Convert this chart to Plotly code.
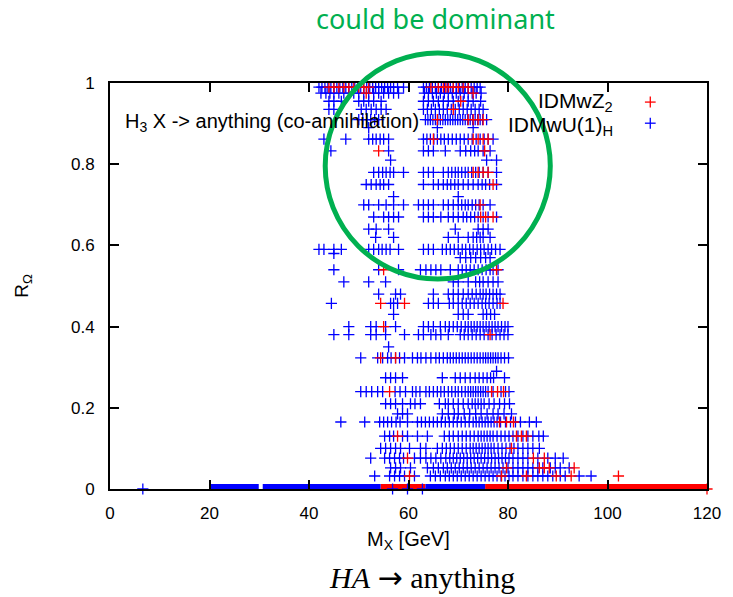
import plotly.graph_objects as go

# ---------------- data ----------------
# Blue series: IDMwU(1)_H  -- each level of R_Omega with its M_X values
BLUE_R = [0.99, 0.975, 0.955, 0.935, 0.91, 0.89, 0.862, 0.833, 0.81, 0.78, 0.75, 0.72,
          0.70, 0.67, 0.64, 0.62, 0.59, 0.58, 0.57, 0.54, 0.51, 0.48, 0.457, 0.43,
          0.40, 0.38, 0.35, 0.323, 0.29, 0.274, 0.24, 0.21, 0.185, 0.165, 0.13,
          0.10, 0.076, 0.052, 0.032, 0.0]
BLUE_X = [
    [42.0, 42.6, 43.2, 43.8, 44.4, 45.0, 45.6, 46.2, 46.8, 47.4, 48.0, 48.6, 49.2, 49.8, 50.4,
     51.0, 51.6, 52.2, 52.8, 53.4, 54.0, 54.6, 55.2, 55.8, 56.4, 57.0, 57.8, 59.0, 63.0, 63.6,
     64.2, 64.8, 65.4, 66.0, 66.6, 67.2, 67.8, 68.4, 69.0, 69.6, 70.2, 70.8, 71.4, 72.0, 72.6,
     73.2, 73.8, 74.4],
    [42.4, 43.4, 44.2, 45.0, 46.0, 47.0, 48.0, 49.0, 50.0, 51.0, 52.0, 53.0, 54.0, 55.0, 56.0,
     57.0, 58.0, 63.2, 64.0, 64.8, 65.6, 66.4, 67.2, 68.0, 68.8, 69.6, 70.4, 71.2, 72.0, 72.8,
     73.6, 74.6],
    [44.0, 45.0, 46.5, 50.0, 51.0, 52.0, 53.0, 54.5, 63.0, 64.0, 65.0, 66.0, 67.0, 68.0, 69.0,
     70.0, 71.0, 72.0, 73.0, 74.5],
    [44.0, 45.0, 50.5, 51.5, 52.5, 53.5, 54.5, 55.5, 63.0, 63.8, 64.6, 65.4, 66.2, 67.0, 67.8,
     68.6, 69.4, 70.2, 71.0, 71.8, 72.6, 73.4, 74.2, 75.0],
    [50.0, 50.8, 51.6, 52.4, 53.2, 54.0, 63.4, 63.9, 64.4, 64.9, 65.4, 65.9, 66.4, 66.9, 67.4,
     67.9, 68.4, 68.9, 69.4, 69.9, 70.4, 70.9, 71.4, 71.9, 72.4, 72.9, 73.4, 73.9, 74.4, 74.9,
     75.7],
    [52.0, 65.8, 73.0],
    [43.0, 47.4, 52.0, 52.8, 53.5, 54.3, 55.0, 56.0, 63.0, 63.7, 64.4, 65.1, 65.8, 66.5, 67.2,
     68.0, 68.8, 69.6, 70.4, 71.2, 72.0, 72.8, 73.6, 74.4, 75.2, 76.0, 77.0],
    [44.4, 56.0, 63.0, 64.0, 65.0, 67.4, 70.4, 71.5, 72.5, 73.3, 74.0, 75.0, 76.4],
    [56.4, 75.7, 77.7],
    [53.0, 54.0, 54.8, 55.5, 56.3, 57.0, 59.0, 63.0, 64.0, 65.0, 67.0, 68.0, 68.7, 69.4, 70.0,
     70.7, 71.4, 72.0, 72.7, 73.5, 74.2, 75.0, 76.0, 77.7],
    [51.5, 52.5, 53.5, 54.3, 55.0, 56.0, 63.0, 65.0, 66.0, 67.0, 67.8, 68.5, 69.3, 70.0, 71.0,
     72.0, 73.0, 74.0, 74.8, 75.5, 76.3, 77.7],
    [57.0, 70.0],
    [51.0, 52.0, 54.0, 55.5, 57.0, 59.0, 62.0, 63.0, 64.0, 65.0, 67.0, 68.0, 69.0, 70.0, 70.7,
     71.4, 72.0, 72.8, 73.5, 74.2, 75.0, 76.4],
    [53.0, 55.0, 56.0, 57.0, 58.0, 63.0, 64.0, 65.0, 66.5, 68.0, 69.0, 70.0, 71.0, 71.7, 72.5,
     73.3, 74.0, 75.0, 76.0, 77.7],
    [52.0, 53.5, 56.0, 69.4, 74.0, 75.0, 76.0],
    [53.4, 57.0, 68.0, 70.0, 72.0, 73.0, 73.7, 74.4, 75.0, 76.4],
    [42.0, 43.0, 45.0, 46.5, 52.0, 53.0, 54.0, 54.7, 55.5, 56.3, 58.0, 63.0, 64.0, 65.0, 66.8,
     67.6, 68.4, 69.2, 70.0, 70.8, 71.5, 72.3, 73.0, 73.8, 74.5, 75.2, 76.0, 76.7, 77.5, 78.4],
    [45.0],
    [70.4, 71.5, 72.5, 73.5, 74.5, 75.5, 76.4],
    [45.0, 54.0, 58.0, 62.4, 63.5, 64.5, 65.5, 66.5, 68.4, 70.0, 70.8, 71.6, 72.4, 73.2, 74.0,
     74.8, 75.6, 76.4, 77.0, 78.0],
    [47.0, 52.0, 55.4, 69.0, 70.0, 72.0, 73.5, 74.3, 75.0, 76.0, 77.0, 78.0],
    [54.0, 57.4, 58.4, 65.0, 68.0, 69.0, 70.0, 71.0, 72.0, 72.8, 73.6, 74.4, 75.0, 75.6, 76.3,
     77.0, 77.7, 78.4],
    [44.5, 56.4, 57.0, 57.8, 64.0, 65.0, 66.0, 68.2, 69.0, 70.0, 70.8, 71.6, 72.4, 73.2, 74.0,
     74.8, 75.5, 76.2, 77.0, 77.8, 78.4],
    [57.0, 70.0, 71.0, 72.0, 75.0, 75.7, 76.5, 77.3],
    [48.0, 52.4, 53.5, 55.4, 57.4, 63.0, 64.0, 65.0, 66.4, 67.4, 68.2, 69.0, 69.8, 70.6, 71.4,
     72.0, 72.6, 73.2, 73.8, 74.4, 75.0, 75.6, 76.2, 76.8, 77.4, 78.0, 78.7, 79.4, 80.0],
    [45.0, 48.0, 52.4, 53.5, 55.4, 59.2, 62.0, 63.0, 64.5, 65.5, 66.5, 68.0, 70.4, 71.2, 72.0,
     72.8, 73.6, 74.4, 75.2, 76.0, 76.8, 77.6, 78.4, 79.2, 80.0],
    [56.0],
    [50.4, 53.8, 54.8, 55.8, 56.5, 57.4, 58.2, 59.2, 60.8, 61.8, 62.5, 63.5, 64.5, 65.5, 66.2,
     67.0, 67.8, 68.4, 69.0, 69.6, 70.2, 70.8, 71.4, 72.0, 72.6, 73.2, 73.8, 74.4, 75.0, 75.5,
     76.0, 76.5, 77.0, 77.5, 78.0, 78.6, 79.3, 80.1],
    [77.7],
    [55.4, 56.4, 57.4, 58.8, 66.8, 69.4, 70.4, 71.4, 72.4, 73.4, 74.2, 75.0, 75.8, 76.5, 77.1,
     79.3],
    [50.4, 51.5, 52.6, 53.8, 54.8, 57.3, 58.3, 59.4, 60.8, 61.5, 62.3, 63.5, 64.2, 65.0, 65.8,
     66.5, 67.2, 68.0, 68.7, 69.4, 70.0, 70.7, 71.4, 72.0, 72.5, 73.0, 73.5, 74.0, 74.5, 75.0,
     75.5, 76.0, 77.0, 78.6, 79.5, 80.2],
    [55.4, 56.4, 57.4, 58.8, 60.4, 61.3, 62.4, 66.2, 67.4, 68.0, 69.0, 70.0, 71.0, 72.0, 72.8,
     73.4, 74.0, 74.6, 75.2, 76.2, 77.2, 78.3, 79.3, 80.3],
    [57.8, 58.8, 59.8, 66.8, 68.0, 69.2, 70.0, 71.2, 72.3, 73.5, 74.6, 75.8, 77.0, 78.0, 79.2,
     80.7],
    [46.4, 51.2, 54.2, 55.0, 55.8, 56.6, 57.5, 58.3, 59.8, 61.8, 62.6, 63.4, 64.2, 65.0, 65.8,
     66.6, 67.4, 68.2, 69.0, 69.8, 70.6, 71.4, 72.2, 73.0, 73.6, 74.2, 74.8, 75.4, 76.0, 76.6,
     77.2, 77.8, 78.5, 79.5, 80.5, 81.5, 82.5, 84.3, 85.7],
    [55.2, 56.2, 57.0, 58.8, 59.8, 61.8, 63.8, 67.2, 68.2, 69.0, 70.0, 70.8, 71.6, 72.4, 73.2,
     74.0, 74.6, 75.2, 75.8, 76.4, 77.0, 77.8, 78.6, 79.4, 80.2, 81.0, 82.0, 83.0, 84.0, 85.0,
     86.2, 87.1],
    [54.4, 55.4, 56.4, 57.4, 58.4, 60.2, 62.4, 63.5, 65.8, 66.8, 67.6, 68.4, 69.2, 70.0, 70.8,
     71.6, 72.4, 73.0, 73.6, 74.2, 74.8, 75.4, 76.0, 76.6, 77.2, 78.0, 78.8, 79.6, 80.4, 81.2,
     82.0, 83.0, 84.0, 85.0, 86.3],
    [52.4, 55.2, 56.2, 57.2, 58.2, 59.0, 61.2, 62.4, 63.5, 64.5, 65.5, 66.5, 67.5, 68.3, 69.0,
     69.7, 70.4, 71.1, 71.8, 72.5, 73.2, 73.9, 74.6, 75.3, 76.0, 76.7, 77.4, 78.1, 78.8, 79.5,
     80.2, 81.0, 82.0, 83.0, 84.0, 86.0, 88.0, 89.5, 91.1],
    [56.4, 57.4, 58.4, 60.4, 63.8, 65.0, 66.0, 67.0, 67.8, 68.6, 69.4, 70.2, 71.0, 71.8, 72.6,
     73.4, 74.2, 75.0, 75.8, 76.6, 77.4, 78.2, 79.0, 80.0, 81.0, 82.0, 83.0, 84.0, 85.0, 86.0,
     87.0, 88.5, 89.5, 90.5, 92.3],
    [53.2, 56.2, 57.2, 58.2, 59.2, 61.2, 64.4, 65.4, 66.4, 67.4, 68.2, 69.0, 69.8, 70.6, 71.4,
     72.2, 73.0, 73.8, 74.6, 75.4, 76.2, 77.0, 77.8, 78.6, 79.4, 80.2, 81.0, 82.0, 83.0, 84.0,
     85.0, 86.0, 87.0, 88.0, 89.0, 90.5, 91.5, 94.3, 96.7],
    [6.6, 56.8, 59.8, 62.8],
]

# Red series: IDMwZ_2
RED_R = [0.99, 0.975, 0.955, 0.935, 0.91, 0.862, 0.833, 0.78, 0.75, 0.70, 0.67, 0.54,
         0.457, 0.40, 0.38, 0.323, 0.24, 0.165, 0.13, 0.10, 0.076, 0.052, 0.032, 0.0]
RED_X = [
    [44.0, 45.0, 46.0, 47.0, 48.0, 49.0, 50.0, 51.0, 52.0, 64.5, 66.0, 67.0, 67.5, 68.0, 69.0,
     70.0, 71.0, 72.0],
    [51.5, 73.0],
    [70.5],
    [69.0],
    [65.8, 72.0, 73.0, 74.0, 75.0],
    [65.0, 73.0, 74.0, 75.0, 76.0],
    [54.0, 75.3],
    [73.0, 74.0, 75.0, 76.0],
    [77.0],
    [74.4],
    [74.5, 75.5, 77.0],
    [55.0, 77.7],
    [54.4, 59.2, 79.0],
    [55.0],
    [76.4],
    [54.4, 57.4],
    [56.2, 76.7, 77.9, 79.1],
    [78.3, 79.7, 81.1],
    [57.8, 81.7, 82.7, 83.7],
    [80.7],
    [59.8, 85.1, 87.3],
    [79.7, 86.3, 87.3, 88.3, 93.3],
    [60.2, 78.7, 83.7, 89.7, 92.7, 102.2],
    [120.0],
]

# Dense runs of points lying on R_Omega = 0 (start, end of each run in M_X)
BAND_BLUE = [(20.0, 29.9), (30.7, 54.4), (63.4, 75.4)]
BAND_RED = [(54.4, 63.4), (75.4, 120.0)]

X_TICKS = [0, 20, 40, 60, 80, 100, 120]
Y_TICKS = [0, 0.2, 0.4, 0.6, 0.8, 1]
Y_TICK_TEXT = ["0", "0.2", "0.4", "0.6", "0.8", "1"]

BLUE = "#0000FF"
RED = "#FF0000"
GREEN = "#00B050"
FONT = "Liberation Sans, Arial, sans-serif"


def flatten(levels, xs):
    fx, fy = [], []
    for r, row in zip(levels, xs):
        for x in row:
            fx.append(x)
            fy.append(r)
    return fx, fy


def band(segments):
    bx, by = [], []
    for a, b in segments:
        bx += [a, b, None]
        by += [0, 0, None]
    return bx, by


bx, by = flatten(BLUE_R, BLUE_X)
rx, ry = flatten(RED_R, RED_X)
rbx, rby = band(BAND_RED)
bbx, bby = band(BAND_BLUE)

marker_common = dict(symbol="cross-thin-open", size=8)

fig = go.Figure()
fig.add_trace(go.Scatter(x=rbx, y=rby, mode="lines", line=dict(color=RED, width=10),
                         cliponaxis=False, hoverinfo="skip", showlegend=False))
fig.add_trace(go.Scatter(x=bbx, y=bby, mode="lines", line=dict(color=BLUE, width=10),
                         cliponaxis=False, hoverinfo="skip", showlegend=False))
fig.add_trace(go.Scatter(x=bx, y=by, mode="markers", name="IDMwU(1)<sub>H</sub>",
                         marker=dict(color=BLUE, line=dict(color=BLUE, width=1.3), **marker_common),
                         cliponaxis=False, showlegend=False))
fig.add_trace(go.Scatter(x=rx, y=ry, mode="markers", name="IDMwZ<sub>2</sub>",
                         marker=dict(color=RED, line=dict(color=RED, width=1.3), **marker_common),
                         cliponaxis=False, showlegend=False))

axis_common = dict(showline=True, linecolor="black", linewidth=2, mirror="ticks",
                   ticks="inside", ticklen=9, tickwidth=1.5, tickcolor="black",
                   showgrid=False, zeroline=False,
                   tickfont=dict(family=FONT, size=17, color="black"))

fig.update_xaxes(range=[0, 120], tickvals=X_TICKS, ticklabelstandoff=8, **axis_common)
fig.update_yaxes(range=[0, 1], tickvals=Y_TICKS, ticktext=Y_TICK_TEXT,
                 ticklabelstandoff=10, **axis_common)

annotations = [
    dict(text="M<sub>X</sub> [GeV]", x=0.5, y=-0.126, xref="paper", yref="paper",
         xanchor="center", yanchor="middle", showarrow=False,
         font=dict(family=FONT, size=20, color="black")),
    dict(text="R<sub>Ω</sub>", x=-0.146, y=0.5, xref="paper", yref="paper",
         xanchor="center", yanchor="middle", textangle=-90, showarrow=False,
         font=dict(family=FONT, size=19, color="black")),
    dict(text="H<sub>3</sub> X -> anything (co-annihilation)", x=0.021, y=0.903,
         xref="paper", yref="paper", xanchor="left", yanchor="middle", showarrow=False,
         font=dict(family=FONT, size=20, color="black")),
    dict(text="IDMwZ<sub>2</sub>", x=0.846, y=0.953, xref="paper", yref="paper",
         xanchor="right", yanchor="middle", showarrow=False,
         font=dict(family=FONT, size=21, color="black")),
    dict(text="IDMwU(1)<sub>H</sub>", x=0.846, y=0.893, xref="paper", yref="paper",
         xanchor="right", yanchor="middle", showarrow=False,
         font=dict(family=FONT, size=21, color="black")),
    dict(text="could be dominant", x=0.546, y=1.16, xref="paper", yref="paper",
         xanchor="center", yanchor="middle", showarrow=False,
         font=dict(family="Noto Sans, sans-serif", size=27, color=GREEN)),
    dict(text="<i>HA</i> <span style=\"font-family:DejaVu Sans\">→</span> anything",
         x=0.522, y=-0.219, xref="paper", yref="paper",
         xanchor="center", yanchor="middle", showarrow=False,
         font=dict(family="Liberation Serif, Times New Roman, serif", size=30, color="black")),
]

# legend keys (crosses) and the green highlight circle
shapes = []
for py_, col in [(0.953, RED), (0.901, BLUE)]:
    cx = 0.905
    shapes.append(dict(type="line", xref="paper", yref="paper", x0=cx - 0.009, x1=cx + 0.009,
                       y0=py_, y1=py_, line=dict(color=col, width=1.3)))
    shapes.append(dict(type="line", xref="paper", yref="paper", x0=cx, x1=cx,
                       y0=py_ - 0.0135, y1=py_ + 0.0135, line=dict(color=col, width=1.3)))
shapes.append(dict(type="circle", xref="paper", yref="paper", x0=0.3605, x1=0.7375,
                   y0=0.517, y1=1.074, line=dict(color=GREEN, width=5), layer="above"))

fig.update_layout(
    width=733, height=597,
    margin=dict(l=110, r=21, t=83, b=108),
    paper_bgcolor="white", plot_bgcolor="white",
    showlegend=False,
    annotations=annotations,
    shapes=shapes,
)

fig.write_html("out.html")
